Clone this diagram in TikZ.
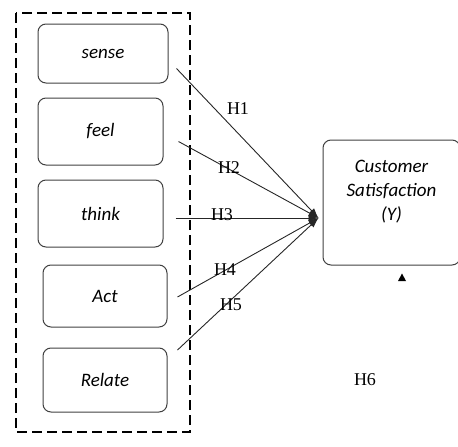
\documentclass[tikz,border=0pt]{standalone}
\usepackage{fontspec}
\setmainfont{Liberation Serif}
\newfontfamily\boxfont{Carlito}
\usetikzlibrary{arrows.meta}

\begin{document}
\begin{tikzpicture}[
x=1pt, y=-1pt,
every node/.style = {align=center},
dim/.style = {shape=rectangle, rounded corners=8pt, draw=black!75, line width=1pt, inner sep=0pt,
              font=\boxfont\itshape\fontsize{19}{24}\selectfont},
hyp/.style = {inner sep=0pt, font=\fontsize{18}{20}\selectfont},
link/.style = {draw=black!85, line width=0.9pt, -{Latex[length=10pt,width=7pt]}},
]
  \useasboundingbox (0,0) rectangle (458,447);
  % dimensions of experiential marketing
  \draw[line width=1.3pt, dash pattern=on 10pt off 5pt] (16,13) rectangle (190,432);
  \node[dim, minimum width=130pt, minimum height=59pt] (sense)  at (103,53.5)  {sense};
  \node[dim, minimum width=125pt, minimum height=67pt] (feel)   at (100.5,131.5) {feel};
  \node[dim, minimum width=125pt, minimum height=67pt] (think)  at (100.5,213.5) {think};
  \node[dim, minimum width=124pt, minimum height=62pt] (act)    at (105,296)   {Act};
  \node[dim, minimum width=124pt, minimum height=64pt] (relate) at (105,380)   {Relate};
  % dependent variable
  \node[dim, minimum width=137pt, minimum height=125pt] (cs) at (391.5,202.5)
    {Customer\\Satisfaction\\(Y)\\~};
  \coordinate (hub) at ([shift={(-4,15.5)}]cs.west);
  \coordinate (sense-out)  at ([shift={(8,15)}]sense.east);
  \coordinate (feel-out)   at ([shift={(15,10)}]feel.east);
  \coordinate (think-out)  at ([shift={(12,4.5)}]think.east);
  \coordinate (act-out)    at ([shift={(10,1)}]act.east);
  \coordinate (relate-out) at ([shift={(10,-30)}]relate.east);
  \foreach \src in {sense,feel,think,act,relate}
    \draw[link] (\src-out) -- (hub);
  % hypotheses
  \node[hyp] (h1) at (238,109) {H1};
  \node[hyp] (h2) at (229,168) {H2};
  \node[hyp] (h3) at (222,215) {H3};
  \node[hyp] (h4) at (225,270) {H4};
  \node[hyp] (h5) at (231,305) {H5};
  \node[hyp] (h6) at (365,380) {H6};
  \fill ([shift={(6.5,15.5)}]cs.south) -- ([shift={(14.5,15.5)}]cs.south) -- ([shift={(10.5,8)}]cs.south) -- cycle;
\end{tikzpicture}
\end{document}
